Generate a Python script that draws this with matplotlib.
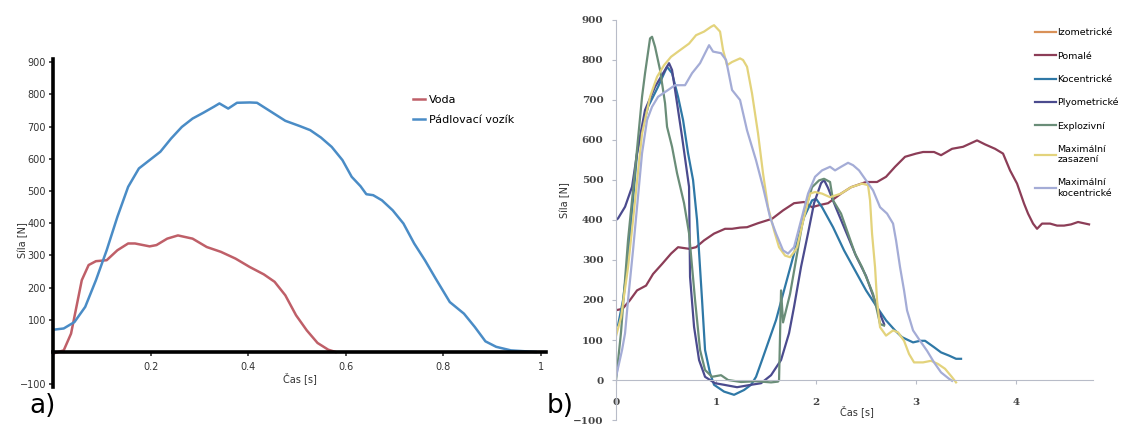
import matplotlib
matplotlib.use("Agg")
from matplotlib import pyplot as plt

# --- a) voda vs. padlovaci vozik ---
voda_t = [0, 0.022, 0.037, 0.059, 0.073, 0.088, 0.11, 0.132, 0.154, 0.168, 0.198, 0.212,
          0.234, 0.256, 0.286, 0.315, 0.344, 0.374, 0.403, 0.432, 0.454, 0.476, 0.498,
          0.52, 0.542, 0.564, 0.579]
voda_f = [-5, 5, 57, 223, 270, 282, 285, 316, 337, 337, 328, 332,
          352, 362, 352, 326, 311, 290, 264, 241, 218, 176, 114,
          67, 28, 7, 0]

vozik_t = [0, 0.022, 0.044, 0.066, 0.088, 0.11, 0.132, 0.154, 0.176, 0.198, 0.22, 0.242,
           0.264, 0.286, 0.308, 0.33, 0.341, 0.359, 0.377, 0.403, 0.418, 0.447, 0.476,
           0.505, 0.527, 0.549, 0.571, 0.593, 0.612, 0.63, 0.642, 0.656, 0.674, 0.696,
           0.718, 0.74, 0.762, 0.784, 0.813, 0.842, 0.864, 0.886, 0.908, 0.938, 0.989]
vozik_f = [69, 73, 93, 140, 223, 316, 420, 513, 570, 596, 622, 663,
           699, 725, 743, 762, 772, 756, 774, 775, 774, 746, 718,
           702, 689, 666, 637, 596, 544, 515, 490, 487, 471, 440,
           399, 337, 285, 228, 155, 119, 78, 33, 16, 5, 0]

# --- b) typy zaberu ---
izo_t = []
izo_f = []

pomale_t = [0.01, 0.065, 0.137, 0.21, 0.30, 0.37, 0.46, 0.55, 0.62, 0.73, 0.80, 0.88, 0.98,
            1.09, 1.16, 1.24, 1.31, 1.42, 1.56, 1.67, 1.78, 1.88, 1.96, 2.03, 2.12, 2.25,
            2.35, 2.50, 2.61, 2.70, 2.79, 2.89, 3.00, 3.07, 3.18, 3.25, 3.36, 3.47, 3.54,
            3.61, 3.69, 3.79, 3.87, 3.94, 4.01, 4.08, 4.12, 4.17, 4.21, 4.26, 4.34, 4.41,
            4.48, 4.55, 4.62, 4.73]
pomale_f = [175, 178, 199, 224, 236, 265, 290, 316, 332, 328, 332, 349, 366,
            378, 378, 381, 382, 392, 403, 424, 442, 445, 432, 437, 442, 466,
            482, 495, 495, 508, 533, 558, 566, 570, 570, 562, 578, 583, 591,
            599, 589, 578, 566, 524, 491, 441, 416, 391, 378, 391, 391, 386,
            386, 389, 395, 389]

koc_t = [0, 0.02, 0.07, 0.11, 0.14, 0.17, 0.21, 0.26, 0.32, 0.42, 0.51, 0.56, 0.62, 0.67,
         0.72, 0.77, 0.81, 0.86, 0.89, 0.94, 0.98, 1.08, 1.18, 1.28, 1.35, 1.40, 1.46,
         1.53, 1.60, 1.67, 1.78, 1.88, 1.96, 2.0, 2.06, 2.17, 2.28, 2.39, 2.50, 2.61,
         2.70, 2.79, 2.86, 2.97, 3.04, 3.09, 3.18, 3.25, 3.33, 3.40, 3.45]
koc_f = [135, 137, 200, 283, 367, 450, 567, 625, 683, 733, 783, 767, 708, 650,
         567, 500, 400, 200, 75, 17, -12, -29, -37, -25, -12, 8, 50,
         100, 150, 215, 316, 407, 449, 453, 432, 382, 324, 274, 224, 182,
         149, 124, 107, 94, 98, 98, 82, 69, 61, 53, 53]

plyo_t = [0, 0.02, 0.09, 0.16, 0.22, 0.29, 0.39, 0.53, 0.56, 0.61, 0.66, 0.73, 0.74, 0.78,
          0.83, 0.89, 0.99, 1.08, 1.21, 1.35, 1.45, 1.55, 1.65, 1.73, 1.78, 1.85, 1.92,
          1.98, 2.05, 2.08, 2.12, 2.20, 2.30, 2.40, 2.50, 2.60, 2.68]
plyo_f = [400, 404, 433, 483, 583, 675, 733, 792, 775, 692, 608, 483, 258, 133,
          50, 8, -8, -12, -18, -12, -8, 12, 50, 117, 183, 283, 367,
          442, 492, 500, 480, 430, 370, 310, 260, 190, 140]

expl_t = [0, 0.05, 0.12, 0.19, 0.26, 0.29, 0.34, 0.36, 0.39, 0.44, 0.49, 0.51, 0.56, 0.61,
          0.68, 0.73, 0.79, 0.84, 0.89, 0.96, 1.05, 1.12, 1.25, 1.40, 1.55, 1.62, 1.63,
          1.65, 1.67, 1.74, 1.81, 1.88, 1.96, 2.03, 2.08, 2.14, 2.17, 2.25, 2.32, 2.39,
          2.46, 2.53, 2.57, 2.61, 2.64, 2.68]
expl_f = [0, 120, 350, 525, 708, 767, 854, 858, 833, 775, 692, 633, 583, 517,
          442, 367, 200, 75, 25, 8, 12, 0, -5, -3, -6, -4, 0,
          224, 144, 215, 315, 416, 482, 499, 503, 495, 449, 416, 366, 316,
          282, 240, 215, 174, 140, 136]

zas_t = [0, 0.05, 0.12, 0.19, 0.26, 0.34, 0.41, 0.48, 0.55, 0.62, 0.73, 0.80, 0.88, 0.95,
         0.98, 1.04, 1.07, 1.11, 1.16, 1.24, 1.27, 1.31, 1.36, 1.42, 1.47, 1.52, 1.58,
         1.63, 1.69, 1.74, 1.78, 1.81, 1.88, 1.94, 1.99, 2.06, 2.14, 2.25, 2.35, 2.46,
         2.52, 2.54, 2.56, 2.59, 2.61, 2.64, 2.70, 2.77, 2.82, 2.88, 2.93, 2.98, 3.07,
         3.15, 3.22, 3.29, 3.36, 3.40]
zas_f = [110, 157, 282, 449, 616, 708, 758, 787, 808, 821, 841, 862, 871, 883,
         887, 871, 825, 787, 795, 804, 800, 783, 716, 616, 516, 432, 374,
         332, 311, 307, 320, 332, 407, 466, 470, 466, 457, 466, 482, 491,
         487, 449, 366, 282, 199, 132, 111, 124, 119, 98, 65, 44, 44,
         48, 40, 28, 7, -6]

maxkoc_t = [0, 0.06, 0.09, 0.12, 0.17, 0.26, 0.31, 0.36, 0.42, 0.52, 0.59, 0.69, 0.76,
            0.84, 0.89, 0.93, 0.97, 1.05, 1.10, 1.16, 1.24, 1.31, 1.40, 1.47, 1.54, 1.60,
            1.67, 1.72, 1.78, 1.85, 1.92, 1.99, 2.06, 2.14, 2.19, 2.25, 2.32, 2.37, 2.43,
            2.50, 2.57, 2.64, 2.71, 2.77, 2.80, 2.84, 2.88, 2.91, 2.97, 3.04, 3.11, 3.18,
            3.25, 3.33, 3.36]
maxkoc_f = [8, 75, 117, 200, 325, 567, 650, 683, 708, 725, 737, 737, 767,
            792, 817, 837, 821, 817, 800, 725, 700, 624, 549, 482, 407, 366,
            324, 316, 332, 399, 466, 508, 524, 533, 524, 533, 543, 537, 524,
            499, 474, 432, 416, 391, 349, 282, 224, 174, 124, 98, 73, 44,
            19, 3, -2]

fig = plt.figure(figsize=(11.25, 4.25), dpi=100)

# ---------------- panel a ----------------
ax1 = fig.add_axes([0.0471, 0.0885, 0.4382, 0.7727])
ax1.plot(voda_t, voda_f, color="#bf5f68", lw=1.8, label="Voda")
ax1.plot(vozik_t, vozik_f, color="#4a8cc6", lw=1.8, label="Pádlovací vozík")
ax1.set_xlim(0, 1.01)
ax1.set_ylim(-110, 910)
for s in ["top", "right"]:
    ax1.spines[s].set_visible(False)
ax1.spines["bottom"].set_position(("data", 0))
ax1.spines["left"].set_linewidth(2.6)
ax1.spines["bottom"].set_linewidth(2.6)
ax1.set_xticks([0.2, 0.4, 0.6, 0.8, 1.0])
ax1.set_xticklabels(["0.2", "0.4", "0.6", "0.8", "1"])
ax1.set_yticks([-100, 100, 200, 300, 400, 500, 600, 700, 800, 900])
ax1.tick_params(labelsize=7, colors="#333333", length=3, width=1.2, pad=2)
ax1.tick_params(axis="x", pad=4)
ax1.set_xlabel("Čas [s]", fontsize=7, color="#333333")
ax1.xaxis.set_label_coords(0.5, 0.045)
ax1.set_ylabel("Síla [N]", fontsize=7, color="#333333")
ax1.yaxis.set_label_coords(-0.05, 0.45)
ax1.legend(loc="upper left", bbox_to_anchor=(0.71, 0.92), frameon=False, fontsize=8,
           handlelength=1.1, handletextpad=0.3, labelspacing=0.9)

# ---------------- panel b ----------------
ax2 = fig.add_axes([0.5476, 0.01176, 0.424, 0.9412])
ax2.plot(izo_t, izo_f, color="#d99158", lw=1.6, label="Izometrické")
ax2.plot(pomale_t, pomale_f, color="#8c3d57", lw=1.6, label="Pomalé")
ax2.plot(koc_t, koc_f, color="#2f78a6", lw=1.6, label="Kocentrické")
ax2.plot(plyo_t, plyo_f, color="#4b4b8e", lw=1.6, label="Plyometrické")
ax2.plot(expl_t, expl_f, color="#6a8d78", lw=1.6, label="Explozivní")
ax2.plot(zas_t, zas_f, color="#e3d37c", lw=1.6, label="Maximální\nzasazení")
ax2.plot(maxkoc_t, maxkoc_f, color="#a4acd6", lw=1.6, label="Maximální\nkocentrické")
ax2.set_xlim(0, 4.77)
ax2.set_ylim(-100, 900)
for s in ["top", "right"]:
    ax2.spines[s].set_visible(False)
ax2.spines["bottom"].set_position(("data", 0))
ax2.spines["left"].set_color("#b8bcc8")
ax2.spines["bottom"].set_color("#b8bcc8")
ax2.set_xticks([0, 1, 2, 3, 4])
ax2.set_yticks(range(-100, 901, 100))
ax2.tick_params(colors="#b8bcc8", length=3, labelcolor="#444444")
ax2.tick_params(axis="x", pad=10)
ax2.tick_params(axis="y", pad=6)
for lbl in ax2.get_xticklabels() + ax2.get_yticklabels():
    lbl.set_family("DejaVu Serif")
    lbl.set_fontweight("bold")
    lbl.set_fontsize(7.5)
ax2.set_xlabel("Čas [s]", fontsize=7, color="#333333")
ax2.xaxis.set_label_coords(0.505, 0.038)
ax2.set_ylabel("Síla [N]", fontsize=7, color="#333333")
ax2.yaxis.set_label_coords(-0.096, 0.55)
ax2.legend(loc="upper left", bbox_to_anchor=(0.86, 1.0), frameon=False, fontsize=6.8,
           handlelength=2.2, handletextpad=0.2, labelspacing=1.5)

fig.text(0.026, 0.045, "a)", fontsize=19, va="center")
fig.text(0.486, 0.045, "b)", fontsize=19, va="center")

fig.savefig("out.png", dpi=100, facecolor="white")
